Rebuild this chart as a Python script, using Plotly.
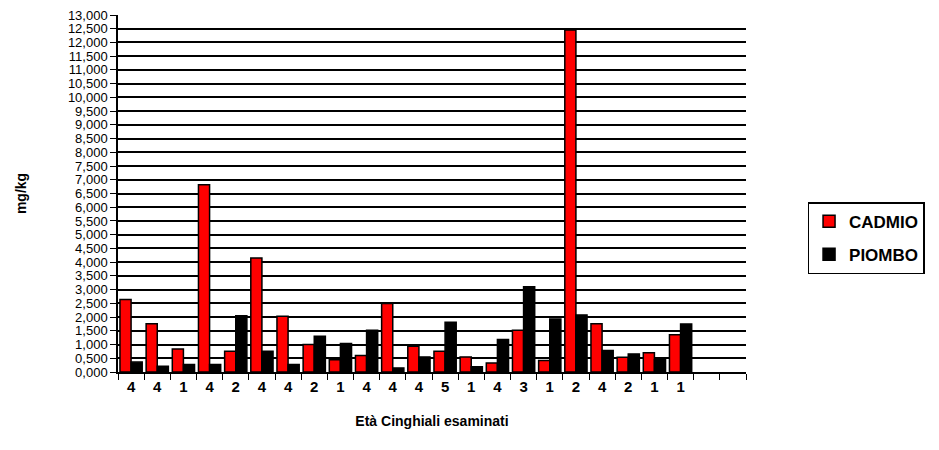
import plotly.graph_objects as go

ages = ["4", "4", "1", "4", "2", "4", "4", "2", "1", "4", "4", "4", "5", "1", "4", "3", "1", "2", "4", "2", "1", "1"]
cadmio = [2.64, 1.76, 0.84, 6.82, 0.76, 4.15, 2.03, 1.00, 0.45, 0.60, 2.49, 0.94, 0.76, 0.55, 0.33, 1.52, 0.42, 12.45, 1.76, 0.54, 0.70, 1.36]
piombo = [0.36, 0.21, 0.27, 0.27, 2.05, 0.76, 0.27, 1.30, 1.04, 1.52, 0.15, 0.55, 1.81, 0.19, 1.18, 3.10, 1.93, 2.08, 0.78, 0.66, 0.45, 1.75]
n_slots = 24
ytick_vals = [i * 0.5 for i in range(27)]
ytick_text = [f"{v:.3f}".replace(".", ",") for v in ytick_vals]

xpos = list(range(len(ages)))

fig = go.Figure()
fig.add_trace(go.Bar(x=xpos, y=cadmio, name="<b>CADMIO</b>", legendgroup="c",
                     marker=dict(color="#ff0000", line=dict(color="black", width=1.5))))
fig.add_trace(go.Bar(x=xpos, y=piombo, name="<b>PIOMBO</b>", legendgroup="p",
                     marker=dict(color="black", line=dict(color="black", width=1.5))))

fig.update_layout(
    width=931, height=442,
    margin=dict(l=110, r=193, t=7, b=78, autoexpand=False),
    paper_bgcolor="white", plot_bgcolor="white",
    barmode="group", bargap=0.15, bargroupgap=0.0,
    font=dict(family="Liberation Sans, Arial", color="black"),
    legend=dict(x=1.098, y=0.375, xanchor="left", yanchor="middle",
                bordercolor="black", borderwidth=1.5, bgcolor="white",
                font=dict(size=17, family="Liberation Sans, Arial"),
                tracegroupgap=8, itemwidth=30),
    showlegend=True,
)
fig.update_xaxes(
    range=[-0.5, n_slots - 0.5], automargin=False,
    tickvals=xpos, ticktext=[f"<b>{a}</b>" for a in ages], ticks="",
    tickfont=dict(size=15),
    showline=True, linecolor="black", linewidth=1.5,
    showgrid=False, zeroline=False,
    minor=dict(ticks="outside", tick0=-0.5, dtick=1, ticklen=6, tickcolor="black", showgrid=False),
    title=dict(text="<b>Età Cinghiali esaminati</b>", font=dict(size=14), standoff=22),
)
fig.update_yaxes(
    range=[0, 13], automargin=False, ticklabeloverflow="allow",
    tickvals=ytick_vals, ticktext=ytick_text,
    ticks="outside", ticklen=6, tickcolor="black",
    tickfont=dict(size=13),
    showline=True, linecolor="black", linewidth=1.5,
    showgrid=True, gridcolor="black", gridwidth=1.5,
    zeroline=False,
    title=dict(text="<b>mg/kg</b>", font=dict(size=14), standoff=38),
)

fig.write_html("out.html")
